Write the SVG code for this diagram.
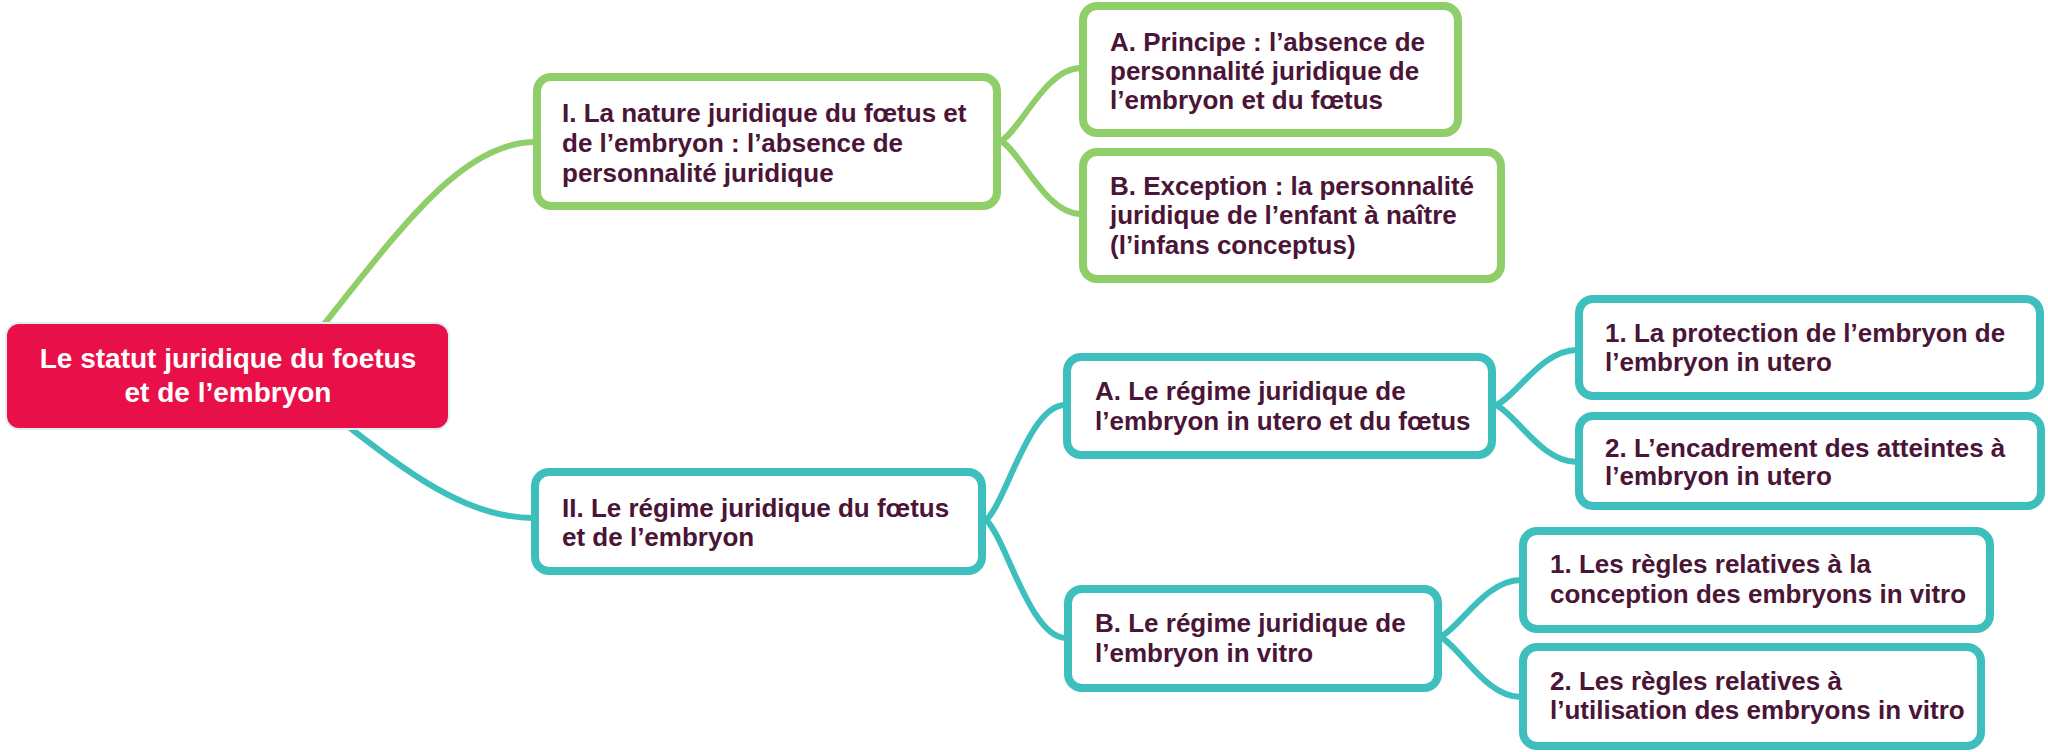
<svg xmlns="http://www.w3.org/2000/svg" width="2048" height="752" viewBox="0 0 2048 752">
<style>
.c{fill:none;stroke-width:6;stroke-linecap:round}
.g{stroke:#8FCE69}
.t{stroke:#3CBFBD}
.box{fill:#FFFFFF;stroke-width:8}
.bg{stroke:#8FCE69}
.bt{stroke:#3CBFBD}
.lbl{font-family:"Liberation Sans",Arial,sans-serif;font-weight:bold;font-size:26px;fill:#4A1536}
.root{font-family:"Liberation Sans",Arial,sans-serif;font-weight:bold;font-size:28px;fill:#FFFFFF;text-anchor:middle}
</style>
<rect width="2048" height="752" fill="#FFFFFF"/>
<g id="connectors">
<path class="c g" d="M280 378 C380 260 450 142 535 142"/>
<path class="c t" d="M287 380 C380 448 450 518 533 518"/>
<path class="c g" d="M1001 141 C1021 130 1045 68 1081 68"/>
<path class="c g" d="M1001 141 C1021 152 1045 214 1081 214"/>
<path class="c t" d="M986 520 C1006 503 1029 405 1065 405"/>
<path class="c t" d="M986 520 C1006 538 1030 638 1066 638"/>
<path class="c t" d="M1496 405 C1516 397 1541 350 1577 350"/>
<path class="c t" d="M1496 405 C1516 414 1541 462 1577 462"/>
<path class="c t" d="M1440 637 C1460 628 1485 580 1521 580"/>
<path class="c t" d="M1440 637 C1460 646 1485 697 1521 697"/>
</g>
<g id="root">
<rect x="6" y="323" width="443" height="106" rx="13" fill="#E9104A" stroke="#DDEFEF" stroke-width="2"/>
<text class="root" x="228" y="368">Le statut juridique du foetus</text>
<text class="root" x="228" y="402">et de l’embryon</text>
</g>
<g id="node-I">
<rect class="box bg" x="537" y="77" width="460" height="129" rx="14"/>
<text class="lbl" x="562" y="122">I. La nature juridique du fœtus et</text>
<text class="lbl" x="562" y="152">de l’embryon : l’absence de</text>
<text class="lbl" x="562" y="182">personnalité juridique</text>
</g>
<g id="node-IA">
<rect class="box bg" x="1083" y="6" width="375" height="127" rx="14"/>
<text class="lbl" x="1110" y="51">A. Principe : l’absence de</text>
<text class="lbl" x="1110" y="80">personnalité juridique de</text>
<text class="lbl" x="1110" y="109">l’embryon et du fœtus</text>
</g>
<g id="node-IB">
<rect class="box bg" x="1083" y="152" width="418" height="127" rx="14"/>
<text class="lbl" x="1110" y="195">B. Exception : la personnalité</text>
<text class="lbl" x="1110" y="224">juridique de l’enfant à naître</text>
<text class="lbl" x="1110" y="254">(l’infans conceptus)</text>
</g>
<g id="node-II">
<rect class="box bt" x="535" y="472" width="447" height="99" rx="14"/>
<text class="lbl" x="562" y="517">II. Le régime juridique du fœtus</text>
<text class="lbl" x="562" y="546">et de l’embryon</text>
</g>
<g id="node-IIA">
<rect class="box bt" x="1067" y="357" width="425" height="98" rx="14"/>
<text class="lbl" x="1095" y="400">A. Le régime juridique de</text>
<text class="lbl" x="1095" y="430">l’embryon in utero et du fœtus</text>
</g>
<g id="node-IIA1">
<rect class="box bt" x="1579" y="299" width="461" height="97" rx="14"/>
<text class="lbl" x="1605" y="342">1. La protection de l’embryon de</text>
<text class="lbl" x="1605" y="371">l’embryon in utero</text>
</g>
<g id="node-IIA2">
<rect class="box bt" x="1579" y="416" width="462" height="90" rx="14"/>
<text class="lbl" x="1605" y="457">2. L’encadrement des atteintes à</text>
<text class="lbl" x="1605" y="485">l’embryon in utero</text>
</g>
<g id="node-IIB">
<rect class="box bt" x="1068" y="589" width="370" height="99" rx="14"/>
<text class="lbl" x="1095" y="632">B. Le régime juridique de</text>
<text class="lbl" x="1095" y="662">l’embryon in vitro</text>
</g>
<g id="node-IIB1">
<rect class="box bt" x="1523" y="531" width="467" height="98" rx="14"/>
<text class="lbl" x="1550" y="573">1. Les règles relatives à la</text>
<text class="lbl" x="1550" y="603">conception des embryons in vitro</text>
</g>
<g id="node-IIB2">
<rect class="box bt" x="1523" y="647" width="458" height="99" rx="14"/>
<text class="lbl" x="1550" y="690">2. Les règles relatives à</text>
<text class="lbl" x="1550" y="719">l’utilisation des embryons in vitro</text>
</g>
</svg>
